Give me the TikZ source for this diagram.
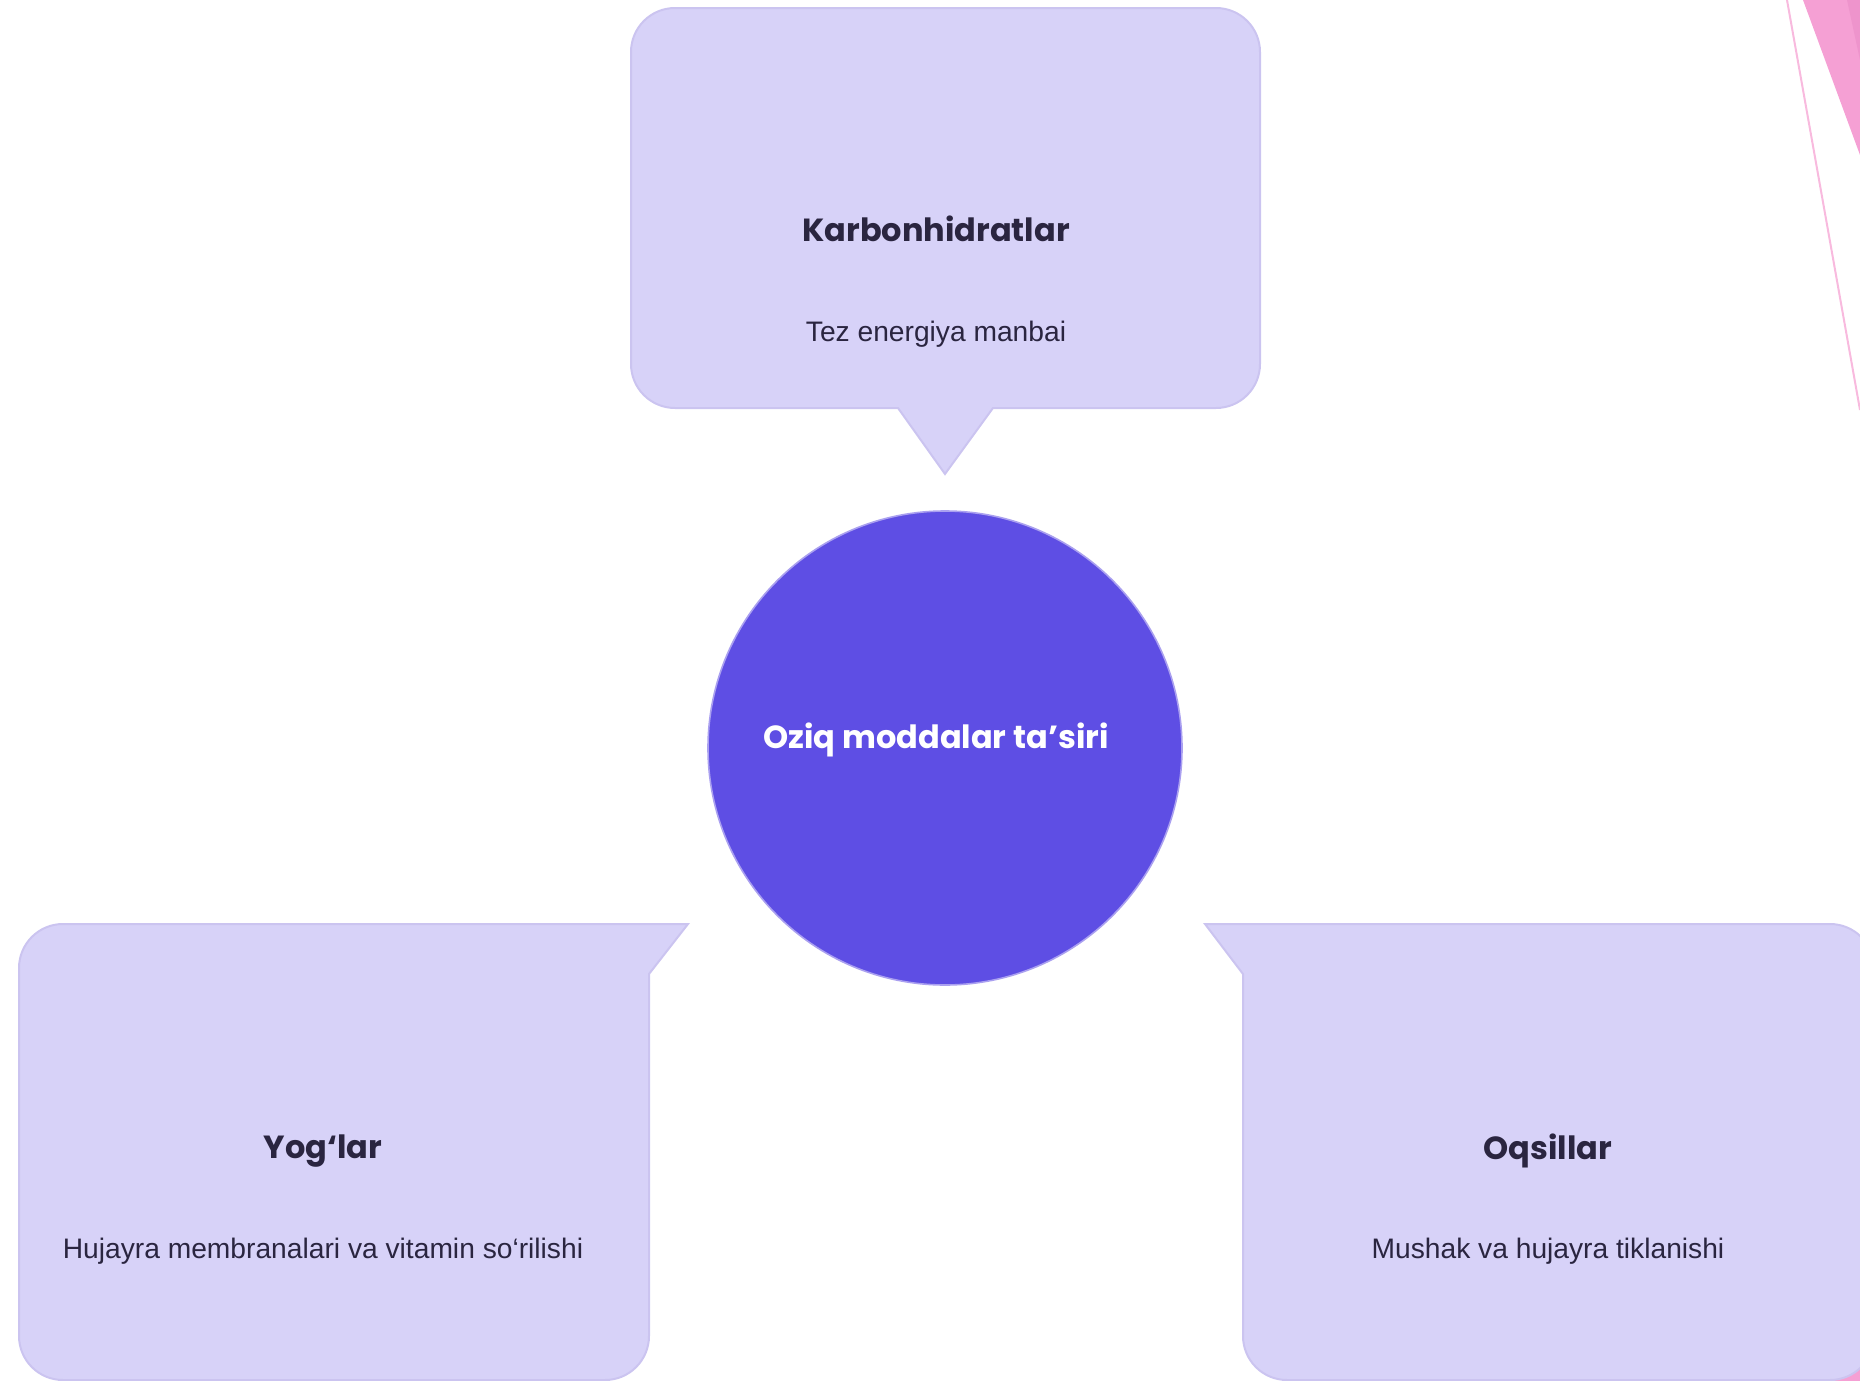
\documentclass[tikz,border=0pt]{standalone}
\usepackage{fontspec}
\setmainfont{Liberation Sans}
\newfontfamily\headfont{Poppins}
\definecolor{boxfill}{RGB}{215,210,248}
\definecolor{boxline}{RGB}{203,196,240}
\definecolor{hub}{RGB}{94,78,228}
\definecolor{hubline}{RGB}{170,160,240}
\definecolor{ink}{RGB}{42,37,64}
\definecolor{pinkA}{RGB}{245,160,212}
\definecolor{pinkB}{RGB}{238,148,204}
\definecolor{pinkline}{RGB}{248,186,222}
\begin{document}
\begin{tikzpicture}[x=0.5pt,y=-0.5pt,
  callout/.style={fill=boxfill,draw=boxline,line width=1pt},
  title/.style={font=\headfont\bfseries\fontsize{16}{19}\selectfont,text=ink},
  sub/.style={font=\fontsize{14.1}{17}\selectfont,text=ink}]
\useasboundingbox (0,0) rectangle (1860,1381);
\clip (0,0) rectangle (1860,1381);
% corner decoration
\fill[pinkA] (1803,0) -- (1860,155) -- (1860,0) -- cycle;
\fill[pinkB] (1847,0) -- (1860,60) -- (1860,0) -- cycle;
\draw[pinkline,line width=1pt] (1787,0) -- (1860,410);
\fill[pinkA] (1834,1381) -- (1860,1360) -- (1860,1381) -- cycle;
% callouts
\draw[callout] (945,8) [rounded corners=22pt] -- (1260,8) -- (1260,408)
  [sharp corners] -- (993,408) -- (945,474) -- (898,408)
  [rounded corners=22pt] -- (631,408) -- (631,8) -- cycle;
\draw[callout] (300,924) -- (688,924) -- (649,974)
  [rounded corners=22pt] -- (649,1380) -- (19,1380) -- (19,924) -- cycle;
\draw[callout] (1500,924) -- (1205,924) -- (1243,974)
  [rounded corners=22pt] -- (1243,1380) -- (1874,1380) -- (1874,924) -- cycle;
% hub
\node[circle,fill=hub,draw=hubline,line width=0.8pt,minimum size=237pt] (hub) at (945,748) {};
\node[font=\headfont\bfseries\fontsize{16}{19}\selectfont,text=white] (hub-label) at (936,740) {Oziq moddalar ta’siri};
% labels
\node[title] (carb) at (936,229) {Karbonhidratlar};
\node[sub] (carb-sub) at (936,334) {Tez energiya manbai};
\node[title] (fat) at (323,1151) {Yog‘lar};
\node[sub] (fat-sub) at (323,1251) {Hujayra membranalari va vitamin so‘rilishi};
\node[title] (prot) at (1548,1151) {Oqsillar};
\node[sub] (prot-sub) at (1548,1251) {Mushak va hujayra tiklanishi};
\end{tikzpicture}
\end{document}
